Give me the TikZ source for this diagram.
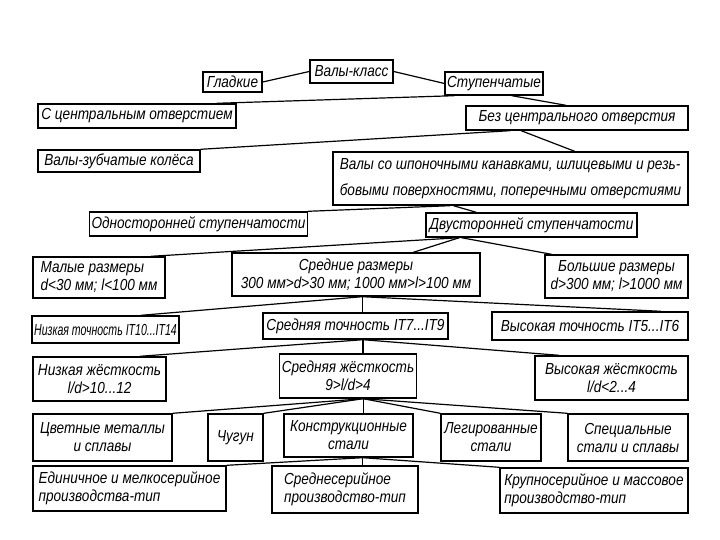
\documentclass[tikz,border=0pt]{standalone}
\usepackage{fontspec}
\newfontfamily\gostfont{Liberation Sans}[FakeStretch=0.85]
\newfontfamily\gostnarrow{Liberation Sans}[FakeStretch=0.66]
\usetikzlibrary{calc}
\tikzset{
  bx/.style={draw, line width=1.4pt, inner sep=2pt, align=center,
    font=\gostfont\itshape\fontsize{16}{18}\selectfont},
  lx/.style={bx, align=left},
  cn/.style={line width=1.2pt},
}
\begin{document}
\begin{tikzpicture}[x=1pt,y=-1pt]
\useasboundingbox[fill=white] (0,0) rectangle (720,540);
% level 0-1
\node[bx, minimum width=83pt, minimum height=23pt] (n1) at (351.5,71.5) {Валы-класс};
\node[bx, minimum width=59pt, minimum height=20pt] (n2) at (232.5,82) {Гладкие};
\node[bx, minimum width=94pt, minimum height=23pt] (n3) at (494,83.5) {Ступенчатые};
\node[lx, minimum width=198pt, minimum height=24pt] (n4) at (137,116) {С центральным отверстием};
\node[bx, minimum width=222pt, minimum height=24pt] (n5) at (577,118) {Без центрального отверстия};
\node[lx, minimum width=162pt, minimum height=22pt] (n6) at (119,161) {Валы-зубчатые колёса};
\node[lx, minimum width=355pt, minimum height=53pt, font=\gostfont\itshape\fontsize{16}{26}\selectfont] (n7) at (510.5,178.5)
  {Валы со шпоночными канавками, шлицевыми и резь-\\бовыми поверхностями, поперечными отверстиями};
\node[bx, minimum width=217pt, minimum height=24pt] (n8) at (198.5,224) {Односторонней ступенчатости};
\node[bx, minimum width=211pt, minimum height=24pt] (n9) at (531.5,225) {Двусторонней ступенчатости};
% sizes
\node[lx, minimum width=132pt, minimum height=41pt] (n10) at (99,277.5) {Малые размеры\\d<30 мм; l<100 мм};
\node[bx, minimum width=248pt, minimum height=43pt] (n11) at (356,274.5) {Средние размеры\\300 мм>d>30 мм; 1000 мм>l>100 мм};
\node[bx, minimum width=143pt, minimum height=43pt] (n12) at (616.5,276.5) {Большие размеры\\d>300 мм; l>1000 мм};
% accuracy
\node[bx, minimum width=145pt, minimum height=27pt, font=\gostnarrow\itshape\fontsize{16}{18}\selectfont] (n13) at (105.5,329.5) {Низкая точность IT10...IT14};
\node[bx, minimum width=185pt, minimum height=26pt] (n14) at (355.5,326) {Средняя точность IT7...IT9};
\node[bx, minimum width=196pt, minimum height=28pt] (n15) at (590,326) {Высокая точность IT5...IT6};
% stiffness
\node[bx, minimum width=133pt, minimum height=44pt] (n16) at (99.5,379) {Низкая жёсткость\\l/d>10...12};
\node[bx, minimum width=136pt, minimum height=44pt] (n17) at (348,376) {Средняя жёсткость\\9>l/d>4};
\node[bx, minimum width=153pt, minimum height=44pt] (n18) at (611.5,378) {Высокая жёсткость\\l/d<2...4};
% materials
\node[bx, minimum width=139pt, minimum height=47pt] (n19) at (102.5,437.5) {Цветные металлы\\и сплавы};
\node[bx, minimum width=55pt, minimum height=47pt] (n20) at (235.5,437.5) {Чугун};
\node[bx, minimum width=129pt, minimum height=43pt] (n21) at (348.5,435.5) {Конструкционные\\стали};
\node[bx, minimum width=100pt, minimum height=47pt] (n22) at (491,437.5) {Легированные\\стали};
\node[bx, minimum width=120pt, minimum height=47pt] (n23) at (628,437.5) {Специальные\\стали и сплавы};
% production
\node[lx, minimum width=193pt, minimum height=45pt] (n24) at (129.5,488.5) {Единичное и мелкосерийное\\производства-тип};
\node[lx, minimum width=146pt, minimum height=47pt] (n25) at (345,489.5) {Среднесерийное\\производство-тип};
\node[lx, minimum width=188pt, minimum height=45pt] (n26) at (594,490.5) {Крупносерийное и массовое\\производство-тип};
% connectors
\draw[cn] (n1.west) -- (n2.east);
\draw[cn] (n1.east) -- (n3.west);
\draw[cn] ($(n3.south west)!0.1!(n3.south east)$) -- ($(n4.north west)!0.9!(n4.north east)$);
\draw[cn] ($(n3.south west)!0.68!(n3.south east)$) -- ($(n5.north west)!0.45!(n5.north east)$);
\draw[cn] ($(n5.south west)!0.2!(n5.south east)$) -- (n6.north east);
\draw[cn] ($(n5.south west)!0.25!(n5.south east)$) -- ($(n7.north west)!0.68!(n7.north east)$);
\draw[cn] ($(n7.south west)!0.33!(n7.south east)$) -- (n8.north east);
\draw[cn] ($(n7.south west)!0.34!(n7.south east)$) -- ($(n9.north west)!0.24!(n9.north east)$);
\draw[cn] ($(n9.south west)!0.16!(n9.south east)$) -- ($(n10.north west)!0.89!(n10.north east)$);
\draw[cn] ($(n9.south west)!0.16!(n9.south east)$) -- ($(n11.north west)!0.73!(n11.north east)$);
\draw[cn] ($(n9.south west)!0.17!(n9.south east)$) -- ($(n12.north west)!0.05!(n12.north east)$);
\coordinate (p11) at ($(n11.south west)!0.525!(n11.south east)$);
\draw[cn] (p11) -- ($(n13.north west)!0.74!(n13.north east)$);
\draw[cn] (p11) -- (p11 |- n14.north);
\draw[cn] (p11) -- ($(n15.north west)!0.86!(n15.north east)$);
\coordinate (p14) at ($(n14.south west)!0.54!(n14.south east)$);
\draw[cn] (p14) -- ($(n16.north west)!0.8!(n16.north east)$);
\draw[cn] (p14) -- (p14 |- n17.north);
\draw[cn] (p14) -- ($(n18.north west)!0.16!(n18.north east)$);
\coordinate (p17) at ($(n17.south west)!0.61!(n17.south east)$);
\draw[cn] (p17) -- (n19.north east);
\draw[cn] (p17) -- (n20.north east);
\draw[cn] (p17) -- (p17 |- n21.north);
\draw[cn] (p17) -- (n22.north west);
\draw[cn] (p17) -- (n23.north west);
\coordinate (p21) at ($(n21.south west)!0.61!(n21.south east)$);
\draw[cn] (p21) -- (n24.north east);
\draw[cn] (p21) -- (p21 |- n25.north);
\draw[cn] (p21) -- (n26.north west);
\end{tikzpicture}
\end{document}
